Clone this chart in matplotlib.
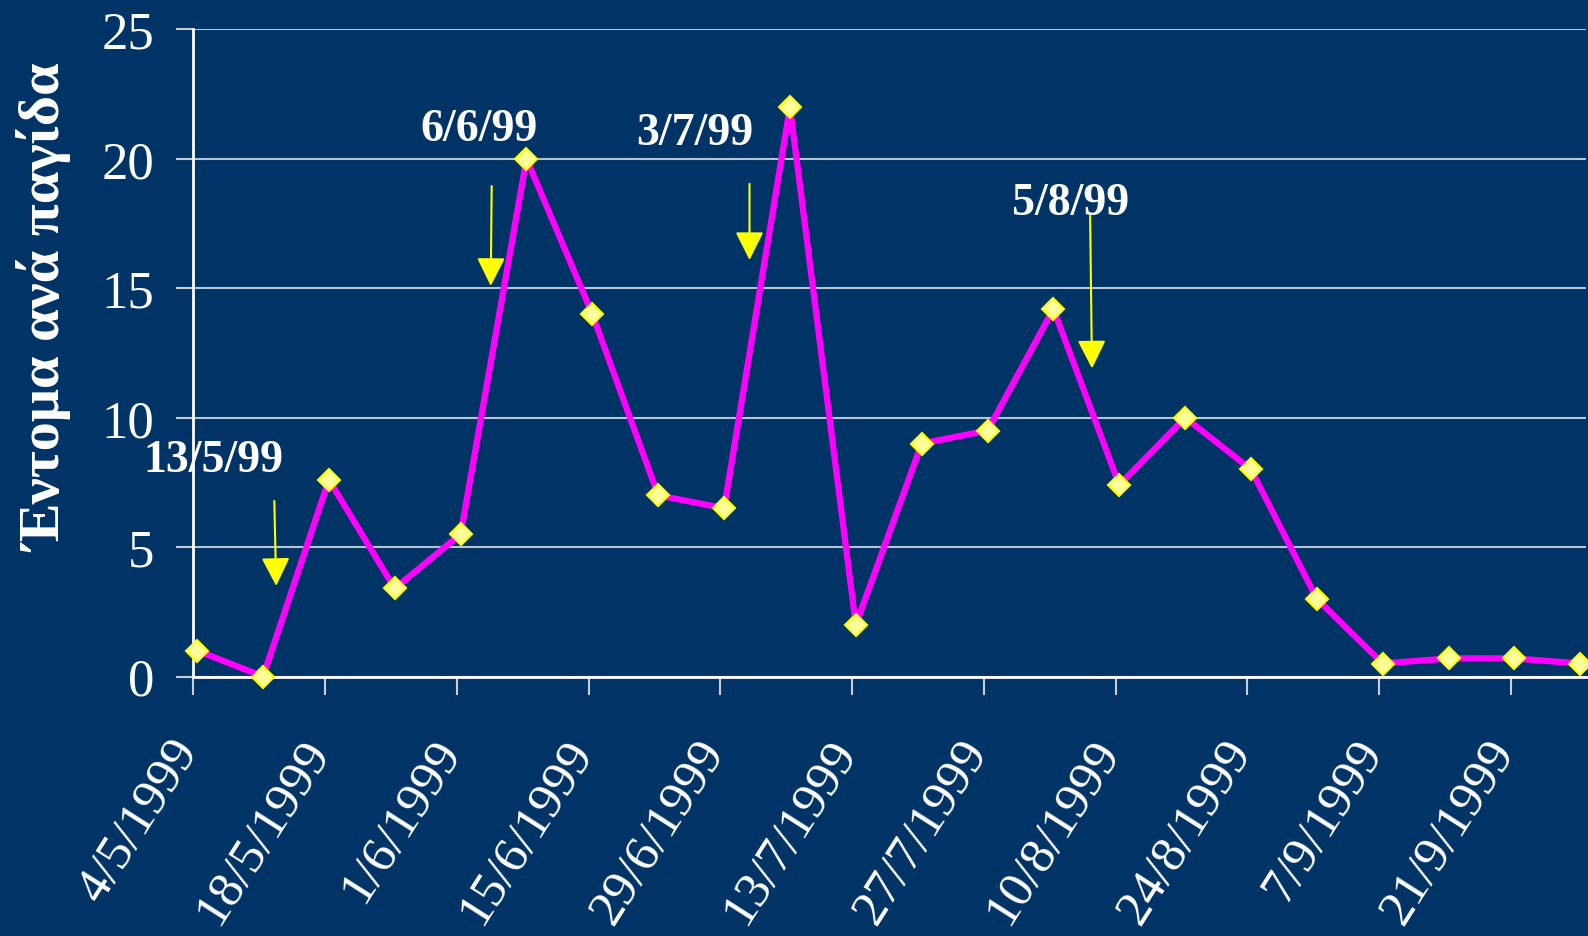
import matplotlib
matplotlib.use('Agg')
import matplotlib.pyplot as plt
import matplotlib.transforms as mtransforms
from datetime import datetime

# ---- data ----
sample_dates = ['4/5/1999', '11/5/1999', '18/5/1999', '25/5/1999', '1/6/1999', '8/6/1999',
                '15/6/1999', '22/6/1999', '29/6/1999', '6/7/1999', '13/7/1999', '20/7/1999',
                '27/7/1999', '3/8/1999', '10/8/1999', '17/8/1999', '24/8/1999', '31/8/1999',
                '7/9/1999', '14/9/1999', '21/9/1999', '28/9/1999']
insects_per_trap = [1, 0, 7.6, 3.4, 5.5, 20, 14, 7, 6.5, 22, 2, 9, 9.5, 14.2, 7.4, 10, 8, 3,
                    0.5, 0.7, 0.7, 0.5]
tick_labels = ['4/5/1999', '18/5/1999', '1/6/1999', '15/6/1999', '29/6/1999', '13/7/1999',
               '27/7/1999', '10/8/1999', '24/8/1999', '7/9/1999', '21/9/1999']
event_labels = ['13/5/99', '6/6/99', '3/7/99', '5/8/99']
y_label = 'Έντομα ανά παγίδα'

# ---- helpers ----
def parse(s):
    return datetime.strptime(s, '%d/%m/%Y')

t0 = parse(sample_dates[0])
x_pts = [(parse(s) - t0).days + 0.4 for s in sample_dates]
x_ticks = [(parse(s) - t0).days for s in tick_labels]

BG = '#003366'
plt.rcParams['font.family'] = ['Liberation Serif', 'DejaVu Serif']

fig = plt.figure(figsize=(15.88, 9.37), dpi=100, facecolor=BG)
ax = fig.add_axes([193.4 / 1588, (937 - 677.5) / 937, (1586 - 193.4) / 1588, (677.5 - 30.4) / 937])
ax.set_facecolor(BG)

ax.plot(x_pts, insects_per_trap, color='#FF00FF', lw=4.5, marker='D', ms=11.5,
        mfc='#FFFF99', mec='#FFFF00', mew=1.5, zorder=3, clip_on=False)

ax.set_xlim(0, 148)
ax.set_ylim(0, 25)
ax.set_yticks([0, 5, 10, 15, 20, 25])
ax.grid(axis='y', color='#B8C4D4', lw=1.5)
ax.set_axisbelow(True)

for side in ['top', 'right']:
    ax.spines[side].set_visible(False)
for side in ['left', 'bottom']:
    ax.spines[side].set_color('white')
    ax.spines[side].set_linewidth(2)

ax.set_xticks(x_ticks)
ax.set_xticklabels(tick_labels, rotation=57.5, ha='right', va='center', rotation_mode='anchor')
ax.tick_params(axis='x', colors='#C8CCD4', length=13, width=1.5, pad=35, labelsize=37,
               labelcolor='white')
ax.tick_params(axis='y', colors='#C8CCD4', length=12, width=1.5, pad=16, labelsize=38,
               labelcolor='white')
shift = mtransforms.ScaledTranslation(-6 / 100, 0, fig.dpi_scale_trans)
for lab in ax.get_xticklabels():
    lab.set_transform(lab.get_transform() + shift)

ax.set_ylabel(y_label, fontsize=42, fontweight='bold', color='white')
ax.yaxis.set_label_coords(-120 / 1392.6, 0.57)

# annotations: label positions and arrows (in data coords)
text_pos = [(2.1, 7.94), (30.3, 20.73), (53.3, 20.58), (93.25, 17.87)]
arrow_start = [(8.6, 6.78), (31.7, 18.95), (59.1, 19.03), (95.3, 17.8)]
arrow_end = [(8.8, 3.5), (31.6, 15.09), (59.1, 16.09), (95.5, 11.9)]
for lab, tp, a0, a1 in zip(event_labels, text_pos, arrow_start, arrow_end):
    ax.text(tp[0], tp[1], lab, ha='center', va='baseline', fontsize=33, fontweight='bold',
            color='white', zorder=4, clip_on=False)
    ax.annotate('', xy=a1, xytext=a0,
                arrowprops=dict(arrowstyle='-|>,head_length=0.5,head_width=0.25',
                                mutation_scale=35, color='#FFFF00', lw=1.5,
                                shrinkA=0, shrinkB=0), zorder=4)

fig.savefig('out.png', dpi=100, facecolor=BG)
